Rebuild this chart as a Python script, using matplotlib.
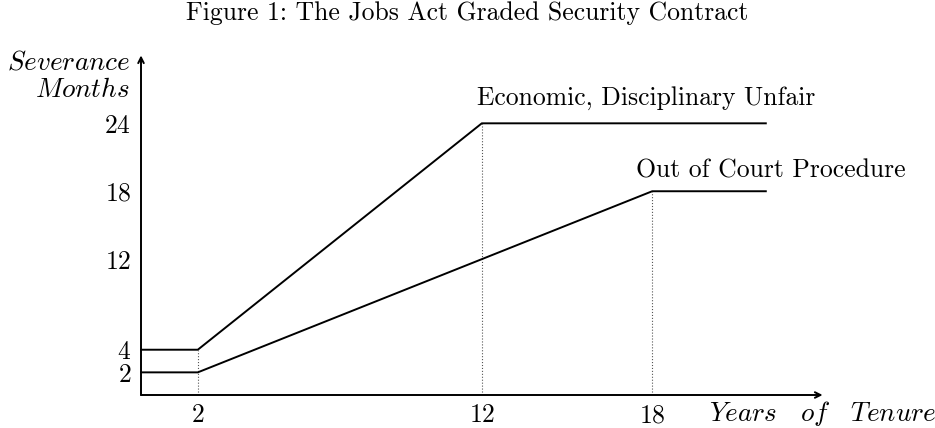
import matplotlib.pyplot as plt

plt.rcParams['font.family'] = 'cmr10'
plt.rcParams['mathtext.fontset'] = 'cm'
plt.rcParams['axes.formatter.use_mathtext'] = True

# tenure (years) and severance (months) break points
unfair_x = [0, 2, 12, 22]
unfair_y = [4, 4, 24, 24]
court_x = [0, 2, 18, 22]
court_y = [2, 2, 18, 18]
xticks = [2, 12, 18]
yticks = [2, 4, 12, 18, 24]

fs = 18.5
fm = 19.5
fig = plt.figure(figsize=(9.35, 4.28), dpi=100)
ax = fig.add_axes([141/935, 33/428, 681.6/935, 339.6/428])
ax.set_xlim(0, 24)
ax.set_ylim(0, 30)
for s in ax.spines.values():
    s.set_visible(False)
ax.set_xticks(xticks)
ax.set_yticks(yticks)
ax.tick_params(length=0, labelsize=fs, pad=6)
ax.tick_params(axis='y', pad=7)

# axes with arrows
ax.annotate('', xy=(24, 0), xytext=(0, 0), annotation_clip=False,
            arrowprops=dict(arrowstyle='->', lw=1.4, color='black', shrinkA=0, shrinkB=0))
ax.annotate('', xy=(0, 30), xytext=(0, 0), annotation_clip=False,
            arrowprops=dict(arrowstyle='->', lw=1.4, color='black', shrinkA=0, shrinkB=0))

# dotted guides
ax.plot([2, 2], [0, 4], ':', color='#555555', lw=0.8)
ax.plot([12, 12], [0, 24], ':', color='#555555', lw=0.8)
ax.plot([18, 18], [0, 18], ':', color='#555555', lw=0.8)

ax.plot(unfair_x, unfair_y, color='black', lw=1.4, clip_on=False)
ax.plot(court_x, court_y, color='black', lw=1.4, clip_on=False)

ax.text(11.83, 26.2, 'Economic, Disciplinary Unfair', fontsize=fs, va='center', ha='left')
ax.text(17.43, 19.8, 'Out of Court Procedure', fontsize=fs, va='center', ha='left')

ax.text(-0.4, 29.4, r'$Severance$', fontsize=fm, ha='right', va='center', clip_on=False)
ax.text(-0.4, 26.9, r'$Months$', fontsize=fm, ha='right', va='center', clip_on=False)
ax.text(20.0, -1.6, r'$Years\ \ \ of\ \ \ Tenure$', fontsize=fm, ha='left', va='center', clip_on=False)

fig.text(0.5, 1 - 13/428, 'Figure 1: The Jobs Act Graded Security Contract',
         fontsize=fs, ha='center', va='center')

fig.savefig('out.png', dpi=100)
